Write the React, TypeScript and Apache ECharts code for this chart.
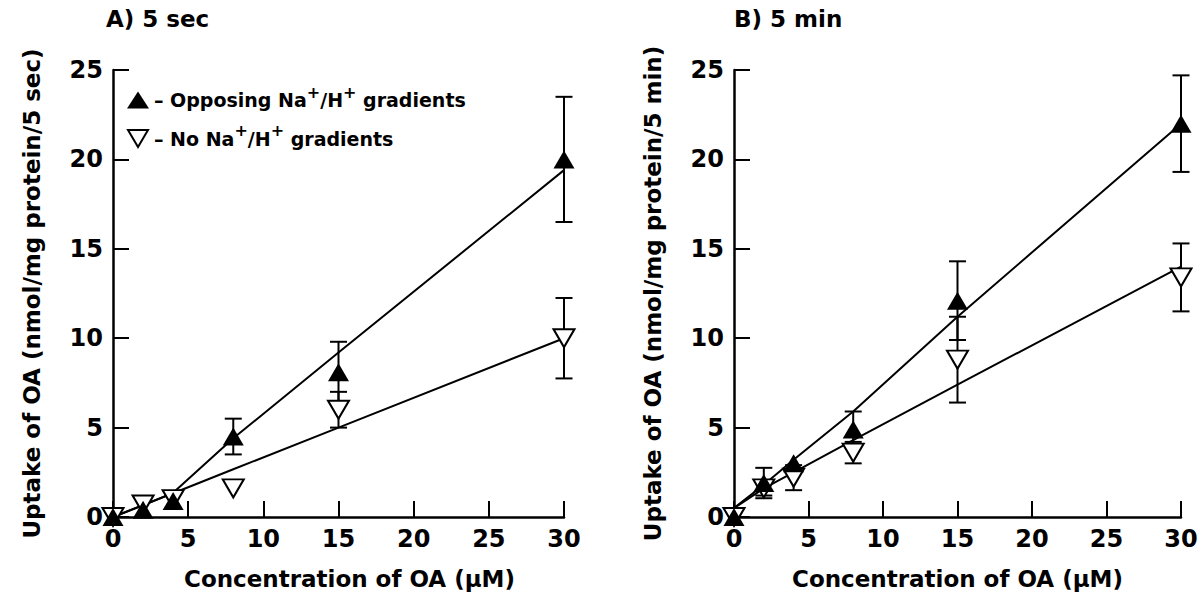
import React, { useEffect, useRef } from "react";
import * as echarts from "echarts";

const xValues = [0, 2, 4, 8, 15, 30];
const xTicks = [0, 5, 10, 15, 20, 25, 30];
const yTicks = [0, 5, 10, 15, 20, 25];

// Panel A (5 sec)
const aOpposingMean = [0, 0.4, 0.9, 4.5, 8.1, 20.0];
const aOpposingErr = [0, 0, 0, 1.0, 1.7, 3.5];
const aNoMean = [0, 0.7, 1.0, 1.6, 6.0, 10.0];
const aNoErr = [0, 0, 0, 0, 1.0, 2.25];
const aOpposingFit = [0, 0.65, 1.35, 4.4, 9.2, 19.4];
const aNoFit = [0, 0.67, 1.33, 2.67, 5.0, 10.0];

// Panel B (5 min)
const bOpposingMean = [0, 1.9, 3.0, 4.9, 12.1, 22.0];
const bOpposingErr = [0, 0.85, 0, 1.0, 2.2, 2.7];
const bNoMean = [0, 1.6, 2.2, 3.6, 8.8, 13.4];
const bNoErr = [0, 0.4, 0.7, 0.6, 2.4, 1.9];
const bOpposingFit = [0.5, 1.8, 3.2, 5.9, 11.2, 22.0];
const bNoFit = [0.5, 1.6, 2.5, 4.3, 7.4, 14.0];

const OPP = "Opposing Na+/H+ gradients";
const NOG = "No Na+/H+ gradients";
const FONT = "DejaVu Sans";
const DOWN_TRI = "path://M0,0L20,0L10,17Z";

function pairs(ys: number[]) {
  return xValues.map((x, i) => [x, ys[i]]);
}
function triples(ys: number[], es: number[]) {
  return xValues.map((x, i) => [x, ys[i], es[i]]);
}

function errRender(params: any, api: any) {
  const x = api.value(0);
  const m = api.value(1);
  const e = api.value(2);
  if (!e) return { type: "group", children: [] };
  const top = api.coord([x, m + e]);
  const bot = api.coord([x, m - e]);
  const hw = 8.5;
  const st = { stroke: "#000", lineWidth: 2 };
  return {
    type: "group",
    children: [
      { type: "line", shape: { x1: top[0], y1: top[1], x2: bot[0], y2: bot[1] }, style: st },
      { type: "line", shape: { x1: top[0] - hw, y1: top[1], x2: top[0] + hw, y2: top[1] }, style: st },
      { type: "line", shape: { x1: bot[0] - hw, y1: bot[1], x2: bot[0] + hw, y2: bot[1] }, style: st },
    ],
  };
}

function panelSeries(idx: number, oppMean: number[], oppErr: number[], noMean: number[], noErr: number[], oppFit: number[], noFit: number[]) {
  const ax = { xAxisIndex: idx, yAxisIndex: idx };
  return [
    { ...ax, type: "line", data: pairs(oppFit), showSymbol: false, lineStyle: { color: "#000", width: 2 }, z: 2, clip: false, silent: true },
    { ...ax, type: "line", data: pairs(noFit), showSymbol: false, lineStyle: { color: "#000", width: 2 }, z: 2, clip: false, silent: true },
    { ...ax, type: "custom", renderItem: errRender, data: triples(oppMean, oppErr), z: 3, clip: false },
    { ...ax, type: "custom", renderItem: errRender, data: triples(noMean, noErr), z: 3, clip: false },
    {
      ...ax, name: NOG, type: "scatter", data: pairs(noMean), symbol: DOWN_TRI, symbolSize: [21, 18],
      itemStyle: { color: "#fff", borderColor: "#000", borderWidth: 2, opacity: 1 }, z: 4, clip: false,
    },
    {
      ...ax, name: OPP, type: "scatter", data: pairs(oppMean), symbol: "triangle", symbolSize: [21, 18],
      itemStyle: { color: "#000", opacity: 1 }, z: 5, clip: false,
    },
  ];
}

function xAxisCfg(idx: number, shift: number) {
  return {
    gridIndex: idx, type: "value", min: 0, max: 30, interval: 5,
    name: "Concentration of OA (μM)", nameLocation: "middle", nameGap: 50,
    nameTextStyle: { fontFamily: FONT, fontSize: 23, fontWeight: "bold", color: "#000", padding: [0, 0, 0, shift] },
    axisLine: { show: true, onZero: false, lineStyle: { color: "#000", width: 2.5 } },
    axisTick: { show: true, inside: true, length: 16, lineStyle: { color: "#000", width: 2 } },
    axisLabel: { fontFamily: FONT, fontSize: 24, fontWeight: "bold", color: "#000", margin: 10 },
    splitLine: { show: false },
  };
}
function yAxisCfg(idx: number, unit: string) {
  return {
    gridIndex: idx, type: "value", min: 0, max: 25, interval: 5,
    name: "Uptake of OA (nmol/mg protein/5 " + unit + ")", nameLocation: "middle", nameGap: 70,
    nameTextStyle: { fontFamily: FONT, fontSize: 23, fontWeight: "bold", color: "#000" },
    axisLine: { show: true, onZero: false, lineStyle: { color: "#000", width: 2.5 } },
    axisTick: { show: true, inside: true, length: 16, lineStyle: { color: "#000", width: 2 } },
    axisLabel: { fontFamily: FONT, fontSize: 24, fontWeight: "bold", color: "#000", margin: 10 },
    splitLine: { show: false },
  };
}

export default function App() {
  const ref = useRef<HTMLDivElement>(null);
  useEffect(() => {
    if (!ref.current) return;
    const chart = echarts.init(ref.current, null, { renderer: "svg" });
    const rich = {
      t: { fontFamily: FONT, fontSize: 19, fontWeight: "bold", color: "#000", lineHeight: 32 },
      s: { fontFamily: FONT, fontSize: 16, fontWeight: "bold", color: "#000", lineHeight: 8, verticalAlign: "top" },
    };
    chart.setOption({
      animation: false,
      backgroundColor: "#fff",
      title: [
        { text: "A) 5 sec", left: 106, top: 7, padding: 0, textStyle: { fontFamily: FONT, fontSize: 23, fontWeight: "bold", color: "#000" } },
        { text: "B) 5 min", left: 734, top: 7, padding: 0, textStyle: { fontFamily: FONT, fontSize: 23, fontWeight: "bold", color: "#000" } },
      ],
      legend: {
        left: 127, top: 84, orient: "vertical", itemGap: 13, itemWidth: 22, itemHeight: 17,
        selectedMode: false, padding: 0,
        data: [
          { name: OPP, icon: "triangle" },
          { name: NOG, icon: DOWN_TRI },
        ],
        formatter: (name: string) =>
          name === OPP
            ? "{t|– Opposing Na}{s|+}{t|/H}{s|+}{t| gradients}"
            : "{t|– No Na}{s|+}{t|/H}{s|+}{t| gradients}",
        textStyle: { rich },
      },
      grid: [
        { left: 113, top: 70, width: 451, height: 447 },
        { left: 734, top: 70, width: 447, height: 447 },
      ],
      xAxis: [xAxisCfg(0, 22), xAxisCfg(1, 0)],
      yAxis: [yAxisCfg(0, "sec"), yAxisCfg(1, "min")],
      series: [
        ...panelSeries(0, aOpposingMean, aOpposingErr, aNoMean, aNoErr, aOpposingFit, aNoFit),
        ...panelSeries(1, bOpposingMean, bOpposingErr, bNoMean, bNoErr, bOpposingFit, bNoFit),
      ],
    });
    return () => chart.dispose();
  }, []);
  return <div ref={ref} style={{ position: "fixed", left: 0, top: 0, width: 1204, height: 610 }} />;
}
